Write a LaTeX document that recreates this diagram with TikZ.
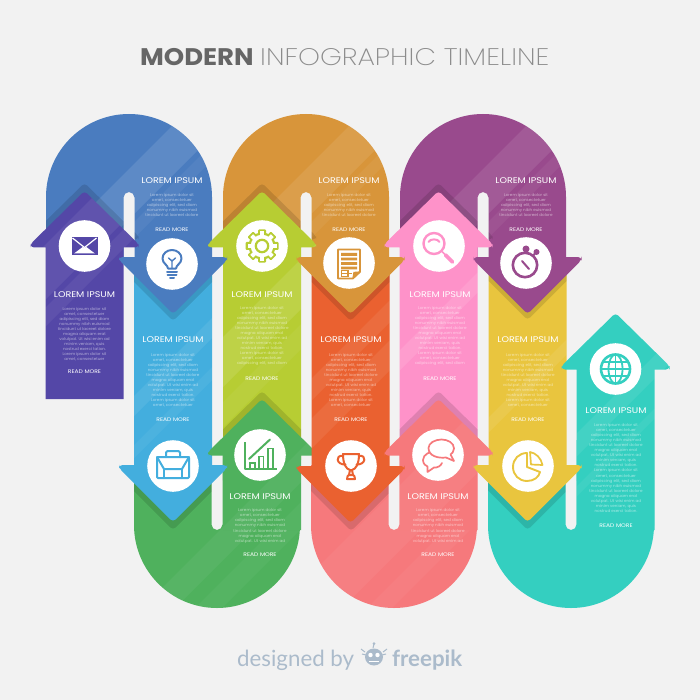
\documentclass[tikz,border=0pt]{standalone}
\usepackage{fontspec}
\setmainfont[FakeStretch=1.08]{Poppins}
\newfontfamily\thinf[FakeStretch=1.16]{Poppins ExtraLight}
\newfontfamily\hdf[FakeStretch=1.15]{Poppins}
\newfontfamily\bdf[FakeStretch=1.05]{Poppins}
\newfontfamily\footf{Lato}
\definecolor{bgc}{HTML}{F2F2F2}
\definecolor{blu}{HTML}{4A7CBF}
\definecolor{pur}{HTML}{5447A7}
\definecolor{lbl}{HTML}{43AEDE}
\definecolor{lim}{HTML}{B7CD33}
\definecolor{och}{HTML}{D8953A}
\definecolor{org}{HTML}{EA6130}
\definecolor{pnk}{HTML}{FE92C9}
\definecolor{mag}{HTML}{994A8D}
\definecolor{yel}{HTML}{E9C53E}
\definecolor{tea}{HTML}{34CFC0}
\definecolor{grn}{HTML}{4FB15D}
\definecolor{sal}{HTML}{F6797C}
\definecolor{ftc}{HTML}{ABBBCB}
\newcommand\archP[1]{(#1-83,262) -- (#1-83,197) .. controls (#1-83,151.2) and (#1-45.8,114) .. (#1,114) .. controls (#1+45.8,114) and (#1+83,151.2) .. (#1+83,197) -- (#1+83,262) -- (#1+5.5,262) -- (#1+5.5,197.5) .. controls (#1+5.5,194.5) and (#1+3,192) .. (#1,192) .. controls (#1-3,192) and (#1-5.5,194.5) .. (#1-5.5,197.5) -- (#1-5.5,262) -- cycle}
\newcommand\cupP[1]{(#1-83,465) -- (#1-83,525) .. controls (#1-83,570.8) and (#1-45.8,608) .. (#1,608) .. controls (#1+45.8,608) and (#1+83,570.8) .. (#1+83,525) -- (#1+83,440) -- (#1+5.5,440) -- (#1+5.5,524.5) .. controls (#1+5.5,527.5) and (#1+3,530) .. (#1,530) .. controls (#1-3,530) and (#1-5.5,527.5) .. (#1-5.5,524.5) -- (#1-5.5,465) -- cycle}
\newcommand\headU[2]{[rounded corners=3.5pt] (#1-54,#2+53) -- (#1,#2) -- (#1+54,#2+53) -- (#1+54,#2+56.5) -- (#1-54,#2+56.5) -- cycle [sharp corners]}
\newcommand\headD[2]{[rounded corners=3.5pt] (#1-54,#2-54) -- (#1-54,#2-57) -- (#1+54,#2-57) -- (#1+54,#2-54) -- (#1,#2) -- cycle [sharp corners]}
\newcommand\bodyR[3]{(#1-39,#2) -- (#1+39,#2) -- (#1+39,#3) -- (#1-39,#3) -- cycle}
\newcommand\band[3][.07]{\fill[white,opacity=#1] (#2,0) -- (#3,0) -- (#3-700,700) -- (#2-700,700) -- cycle;}
\newcommand\shd[1]{\fill[black,opacity=.12] #1;}
\tikzset{
  hd/.style={text=white,inner sep=0pt,font=\fontsize{8.3}{10}\hdf\selectfont},
  bd/.style={text=white,text opacity=.55,inner sep=0pt,align=center,font=\fontsize{3.9}{5.02}\bdf\selectfont},
  rm/.style={text=white,inner sep=0pt,font=\fontsize{5.2}{6}\hdf\selectfont},
  disc/.style={fill=white},
  is/.style={draw=ic,line width=2pt,line cap=round,line join=round},
  it/.style={draw=ic,line width=1.6pt,line cap=round,line join=round}
}
\newcommand\bodyS{Lorem ipsum dolor sit\\amet, consectetuer\\adipiscing elit, sed diam\\nonummy nibh euismod\\tincidunt ut laoreet dolore}
\newcommand\bodyM{\bodyS\\magna aliquam erat\\volutpat. Ut wisi enim ad}
\newcommand\bodyL{\bodyM\\minim veniam, quis\\nostrud exerci tation.\\Lorem ipsum dolor sit\\amet, consectetuer}
\newcommand\bodyX{\bodyL\\adipiscing elit, sed diam}
\newcommand\bodyT{\bodyX\\nonummy nibh euismod\\tincidunt ut laoreet dolore\\magna aliquam erat\\volutpat. Ut wisi enim ad\\minim veniam, quis\\nostrud exerci tation.}
\newcommand\block[6]{%
  \node[hd] (#1h) at (#2,#3) {LOREM IPSUM};
  \node[bd] (#1b) at (#2,#4) {#5};
  \node[rm] (#1r) at (#2,#6) {READ MORE};}
\newcommand\disc[2]{\fill[disc] (#1,#2) circle[radius=25.8pt];}
\begin{document}
\begin{tikzpicture}[x=1pt,y=-1pt]
\useasboundingbox (0,0) rectangle (700,700);
\fill[bgc] (0,0) rectangle (700,700);
% ---------- arches
\begin{scope}\clip \archP{129}; \fill[blu] (0,100) rectangle (300,270); \band[.11]{298}{348}\band[.05]{356}{372}\shd{\headU{84.5}{183}}\end{scope}
\begin{scope}\clip \archP{306}; \fill[och] (200,100) rectangle (400,270); \band[.09]{475}{525}\band[.05]{533}{549}\shd{\headU{262}{183}}\end{scope}
\begin{scope}\clip \archP{483}; \fill[mag] (380,100) rectangle (580,270); \band[.09]{652}{702}\band[.05]{710}{726}\shd{\headU{438.5}{183}}\end{scope}
% ---------- upper up arrows
\begin{scope}\clip \headU{84.5}{191} \bodyR{84.5}{240}{399}; \fill[pur] (20,180) rectangle (150,400); \band[.07]{290}{345}\band[.06]{353}{372}\end{scope}
\begin{scope}\clip \headU{262}{191} \bodyR{262}{240}{460}; \fill[lim] (200,180) rectangle (330,470); \band[.1]{560}{610}\band[.05]{625}{650}\end{scope}
\begin{scope}\clip \headU{438.5}{191} \bodyR{438.5}{240}{460}; \fill[pnk] (380,180) rectangle (500,470); \band[.1]{750}{770}\end{scope}
% ---------- U shapes
\begin{scope}\clip \cupP{217}; \fill[grn] (120,430) rectangle (310,620); \band[.05]{750}{783}\band[.04]{803}{830}\shd{\headD{173}{530}}\end{scope}
\begin{scope}\clip \cupP{394}; \fill[sal] (300,430) rectangle (490,620); \band[.05]{885}{950}\band[.04]{975}{1000}\shd{\headD{351}{531}}\end{scope}
\begin{scope}\clip \cupP{571}; \fill[tea] (480,430) rectangle (660,620); \shd{\headD{527.5}{530}}\end{scope}
% ---------- lower bodies
\begin{scope}\clip \bodyR{173}{259}{470}; \fill[lbl] (120,250) rectangle (220,480); \band[.08]{530}{550}\band[.05]{579}{592}\shd{\headD{173}{321}}\end{scope}
\begin{scope}\clip \bodyR{527.5}{259}{470}; \fill[yel] (480,250) rectangle (570,480); \band[.08]{906}{921}\shd{\headD{527.5}{320}}\end{scope}
% ---------- green arrow
\begin{scope}\clip \bodyR{262}{255}{460}; \shd{\headU{262}{391}}\end{scope}
\begin{scope}\clip \headU{262}{399} \bodyR{262}{445}{530}; \fill[grn] (200,390) rectangle (330,540); \band[.05]{750}{783}\band[.04]{803}{830}\end{scope}
% ---------- orange body
\begin{scope}\clip \bodyR{350.5}{259}{470}; \fill[org] (300,250) rectangle (400,480); \band[.07]{690}{712}\band[.07]{730}{760}\shd{\headD{350.5}{321}}\end{scope}
% ---------- salmon and teal arrows
\begin{scope}\clip \bodyR{438.5}{255}{460}; \shd{\headU{438.5}{391}}\end{scope}
\begin{scope}\clip \headU{438.5}{399} \bodyR{438.5}{445}{530}; \fill[sal] (380,390) rectangle (500,540); \band[.05]{885}{950}\end{scope}
\begin{scope}\clip \headU{615.5}{313} \bodyR{615.5}{360}{530}; \fill[tea] (560,310) rectangle (675,540); \band[.08]{1010}{1033}\band[.06]{1063}{1073}\end{scope}
% ---------- lower down heads
\fill[lbl] \headD{173}{522};
\fill[org] \headD{350.5}{523};
\fill[yel] \headD{527.5}{522};
% ---------- upper down heads
\fill[blu] \headD{173}{314};
\fill[och] \headD{350.5}{314};
\fill[mag] \headD{527.5}{314};
% ---------- discs
\disc{84.5}{246}\disc{172}{264}\disc{262}{246}\disc{349}{263}\disc{439}{246}\disc{526}{263}
\disc{173}{466}\disc{260}{455}\disc{351}{466}\disc{438}{455}\disc{528}{466}\disc{615.5}{369}
% ---------- envelope
\begin{scope}[shift={(84.5,246)}]\colorlet{ic}{pur}
\fill[ic] (-13,-9) rectangle (13,9);
\draw[white,line width=1.2pt] (-12,-8) -- (0,1.5) -- (12,-8);
\fill[white] (-10.5,7.5) -- (-1.5,0.8) -- (0,2.5) -- (1.5,0.8) -- (10.5,7.5) -- cycle;
\end{scope}
% ---------- bulb
\begin{scope}[shift={(172,264)}]\colorlet{ic}{blu}
\draw[is] (-4,4.5) .. controls (-4,1) and (-9.5,-0.5) .. (-9.5,-5.5) .. controls (-9.5,-10.5) and (-5,-14) .. (0,-14) .. controls (5,-14) and (9.5,-10.5) .. (9.5,-5.5) .. controls (9.5,-0.5) and (4,1) .. (4,4.5) -- cycle;
\draw[it,line width=1.4pt] (0,4) -- (0,-3) (-3.5,-6) -- (0,-3) -- (3.5,-6);
\draw[is] (-5,8) -- (5,8) (-4.5,11) -- (4.5,11);
\draw[is] (-2,13.5) -- (2,13.5);
\end{scope}
% ---------- gear
\begin{scope}[shift={(262,246)}]\colorlet{ic}{lim}
\foreach \a in {0,45,...,315}{\fill[ic,rotate=\a,rounded corners=1pt] (-4,-16.5) rectangle (4,0);}
\fill[ic] (0,0) circle[radius=13.5pt];
\foreach \a in {0,45,...,315}{\fill[white,rotate=\a] (-2,-14.5) rectangle (2,0);}
\fill[white] (0,0) circle[radius=11.3pt];
\draw[ic,line width=2.2pt] (0,0) circle[radius=6.2pt];
\end{scope}
% ---------- document
\begin{scope}[shift={(349,264)}]\colorlet{ic}{och}
\draw[ic,line width=1.6pt,line join=round] (-11,-14.5) -- (11,-14.5) -- (11,8) -- (4,14.5) -- (-11,14.5) -- cycle;
\draw[ic,line width=1.3pt,fill=ic] (11,8) -- (5,8.5) -- (4,14.5);
\fill[ic] (-8,-11) rectangle (8,-8.2) (-8,-6.5) rectangle (8,-3.7) (-8,-2) rectangle (8,.8) (-8,2.5) rectangle (8,5.3);
\draw[ic,line width=1.2pt] (-7.5,6.5) rectangle (-1,12.5) (-7.5,9.5) -- (3,9.5);
\end{scope}
% ---------- magnifier
\begin{scope}[shift={(440,247)}]\colorlet{ic}{pnk}
\draw[ic,line width=2.4pt] (-6,-3.5) circle[radius=10.5pt];
\draw[ic,line width=2pt,line cap=round] (-11.5,-5) .. controls (-10,-8.5) and (-2,-8.5) .. (-.5,-5);
\draw[ic,line width=1.5pt] (2,4.5) -- (5,7.5);
\draw[ic,line width=3.6pt,line cap=round] (5.5,8) -- (12.5,15);
\end{scope}
% ---------- stopwatch
\begin{scope}[shift={(525,265)}]\colorlet{ic}{mag}
\draw[ic,line width=2.6pt] (0,0) circle[radius=12.2pt];
\fill[ic] (1,-16) circle[radius=3.5pt];
\fill[ic] (11.5,-13) circle[radius=3pt];
\draw[ic,line width=2pt] (1,-15) -- (1,-12) (11,-12.5) -- (8,-9.5);
\draw[ic,line width=2pt,line cap=round] (-3,-4) -- (4,4);
\end{scope}
% ---------- briefcase
\begin{scope}[shift={(173,466)}]\colorlet{ic}{lbl}
\draw[is,rounded corners=1pt] (-16,-9) rectangle (16,12);
\draw[is,rounded corners=1.5pt] (-7,-9) -- (-7,-15) -- (7,-15) -- (7,-9);
\draw[is] (-16,-9) -- (-9,3) -- (9,3) -- (16,-9);
\draw[is] (-9,3) -- (-9,12) (9,3) -- (9,12);
\end{scope}
% ---------- chart
\begin{scope}[shift={(260,455)}]\colorlet{ic}{grn}
\draw[is,line cap=butt] (-15.5,-13) -- (-15.5,13.5) -- (17,13.5);
\draw[ic,line width=1.5pt] (-10,13) -- (-10,8) -- (-5,8) -- (-5,13) (-1,13) -- (-1,1.5) -- (3.5,1.5) -- (3.5,13) (8,13) -- (8,-6.5) -- (13,-6.5) -- (13,13);
\draw[is] (-11,4) -- (10,-15.5);
\end{scope}
% ---------- trophy
\begin{scope}[shift={(351,466)}]\colorlet{ic}{org}
\draw[is] (-8,-12) -- (8,-12) .. controls (8,-2) and (5,3) .. (1,4) -- (-1,4) .. controls (-5,3) and (-8,-2) .. (-8,-12) -- cycle;
\draw[is] (-8,-10) .. controls (-16,-11.5) and (-15,-1) .. (-5.5,-1.5);
\draw[is] (8,-10) .. controls (16,-11.5) and (15,-1) .. (5.5,-1.5);
\draw[is] (-1,4) -- (-2,9) (1,4) -- (2,9);
\draw[is] (-4,13) .. controls (-4,10) and (-3,9) .. (-1.5,9) -- (1.5,9) .. controls (3,9) and (4,10) .. (4,13) -- cycle;
\end{scope}
% ---------- chat
\begin{scope}[shift={(438,455)}]\colorlet{ic}{sal}
\draw[is,line width=1.7pt] (-4.5,-3.5) .. controls (-7,-3.5) and (-15,-1) .. (-15,5) .. controls (-15,9) and (-12,11) .. (-10.5,11.5) -- (-10.5,17) -- (-4,12.5) .. controls (-1,13) and (3,11) .. (4,8);
\draw[is,line width=1.7pt,fill=white] (-9.5,-7) .. controls (-9.5,-12) and (-3,-15.5) .. (3.5,-15.5) .. controls (10,-15.5) and (16,-12) .. (16,-6.5) .. controls (16,-3.5) and (14,-1.5) .. (12.5,-.5) -- (16,6) -- (8,2.5) .. controls (0,3.5) and (-9.5,1) .. (-9.5,-7) -- cycle;
\end{scope}
% ---------- pie
\begin{scope}[shift={(527,467)}]\colorlet{ic}{yel}
\draw[is,line width=1.9pt] (0,-14) .. controls (-8,-14) and (-14,-8) .. (-14,0) .. controls (-14,8) and (-8,14) .. (0,14) .. controls (7,14) and (12,10) .. (13,5) -- (0,0) -- cycle;
\draw[is,line width=1.7pt] (3,-15) .. controls (9,-14) and (14,-9) .. (15.5,-2) -- (4,-2.5) -- (3,-15);
\end{scope}
% ---------- globe
\begin{scope}[shift={(615.5,369)}]\colorlet{ic}{tea}
\draw[ic,line width=2.6pt] (0,0) circle[radius=14.5pt];
\draw[ic,line width=1.8pt] (0,0) ellipse[x radius=7pt,y radius=14.5pt];
\draw[ic,line width=1.8pt] (0,-15) -- (0,15) (-15,0) -- (15,0) (-12,-7) -- (12,-7) (-12,7) -- (12,7);
\end{scope}
% ---------- texts
\block{a}{84.5}{294.5}{334}{\bodyL}{371.5}
\block{b}{172}{180.5}{205}{\bodyS}{229.5}
\block{c}{173}{339.5}{380}{\bodyL}{419.5}
\block{d}{262}{294.5}{336}{\bodyX}{378.5}
\block{e}{349}{180.5}{205}{\bodyS}{229.5}
\block{f}{351}{339.5}{380}{\bodyL}{419.5}
\block{g}{440}{294.5}{336}{\bodyX}{378.5}
\block{h}{526}{180.5}{205}{\bodyS}{229.5}
\block{i}{528}{339.5}{380}{\bodyL}{419.5}
\block{j}{260}{496.5}{526}{\bodyM}{554.5}
\block{k}{438}{496.5}{526}{\bodyM}{554.5}
\block{l}{616}{410.5}{468}{\bodyT}{525.5}
% ---------- title and footer
\node[anchor=base west,inner sep=0pt,text=black!60,font=\fontsize{24}{28}\bfseries\selectfont] (ttl) at (140,66) {MODERN};
\node[anchor=base west,inner sep=0pt,text=black!45,font=\fontsize{24}{28}\thinf\selectfont] (ttm) at (260,66) {INFOGRAPHIC TIMELINE};
\node[anchor=base west,inner sep=0pt,text=ftc,font=\fontsize{22.3}{26}\footf\selectfont] (fta) at (237,666) {designed by};
\node[anchor=base west,inner sep=0pt,text=ftc,font=\fontsize{22.3}{26}\footf\bfseries\selectfont] (ftb) at (392,666) {freepik};
\begin{scope}[shift={(374,657)}]
\fill[ftc] (0,0) ellipse[x radius=9pt,y radius=8.5pt];
\fill[white] (-3.5,-2) circle[radius=2.2pt] (3.5,-2) circle[radius=2.2pt];
\draw[white,line width=1pt] (-5,4) -- (5,4);
\draw[ftc,line width=1pt] (-1,-9) -- (0,-13) (-9,-5) -- (-13,-8) (9,-5) -- (13,-8) (-8,-2) -- (-12,-3) (8,-2) -- (12,-3);
\fill[ftc] (0,-13.5) circle[radius=1.5pt];
\end{scope}
\end{tikzpicture}
\end{document}
